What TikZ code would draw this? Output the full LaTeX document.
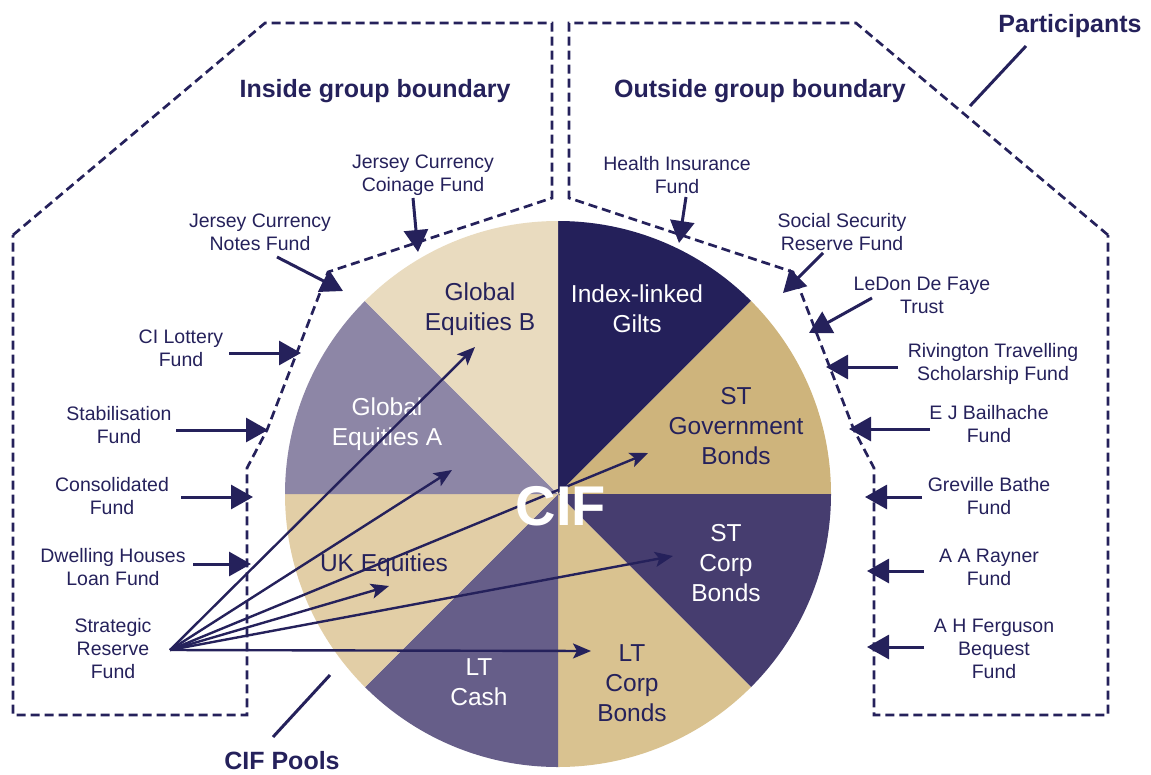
\documentclass[tikz,border=0pt]{standalone}
\usepackage{fontspec}
\setmainfont{Liberation Sans}
\usetikzlibrary{arrows.meta,calc}
\definecolor{navy}{RGB}{37,33,91}
\definecolor{cgilts}{RGB}{36,32,90}
\definecolor{cstgov}{RGB}{206,180,124}
\definecolor{cstcorp}{RGB}{70,61,111}
\definecolor{cltcorp}{RGB}{217,194,144}
\definecolor{cltcash}{RGB}{102,94,137}
\definecolor{cukeq}{RGB}{226,206,166}
\definecolor{cglobA}{RGB}{141,134,166}
\definecolor{cglobB}{RGB}{233,219,191}
\begin{document}
\begin{tikzpicture}[x=1pt,y=-1pt,
  lbl/.style={text=navy, align=center, font=\fontsize{19.5}{23}\selectfont, inner sep=0pt},
  pielbl/.style={align=center, font=\fontsize{24.5}{30}\selectfont, inner sep=0pt},
  ttl/.style={text=navy, font=\fontsize{25}{29}\selectfont\bfseries, inner sep=0pt},
  bnd/.style={draw=navy, line width=2.7pt, dash pattern=on 9pt off 5pt, line join=miter},
  bigarr/.style={draw=navy, line width=3pt, -{Triangle[length=22pt,width=24pt]}},
  poolarr/.style={draw=navy, line width=2.4pt, -{Stealth[length=18pt,width=15pt,inset=4pt]}},
  lead/.style={draw=navy, line width=3pt}]
\useasboundingbox (0,0) rectangle (1151,774);

% boundaries
\draw[bnd] (13,235) -- (265,23) -- (552,23) -- (552,198) -- (328,272) -- (267,430) -- (247,468) -- (247,715) -- (13,715) -- cycle;
\draw[bnd] (1108,235) -- (856,23) -- (569,23) -- (569,198) -- (793,272) -- (854,430) -- (874,468) -- (874,715) -- (1108,715) -- cycle;

% pie
\coordinate (c) at (558,494);
\begin{scope}
\clip (c) circle[radius=273pt];
\fill[cgilts]  (c) -- ($(c)+(-90:400)$) -- ($(c)+(-67.5:400)$) -- ($(c)+(-45:400)$) -- cycle;
\fill[cstgov]  (c) -- ($(c)+(-45:400)$) -- ($(c)+(-22.5:400)$) -- ($(c)+(0:400)$) -- cycle;
\fill[cstcorp] (c) -- ($(c)+(0:400)$) -- ($(c)+(22.5:400)$) -- ($(c)+(45:400)$) -- cycle;
\fill[cltcorp] (c) -- ($(c)+(45:400)$) -- ($(c)+(67.5:400)$) -- ($(c)+(90:400)$) -- cycle;
\fill[cltcash] (c) -- ($(c)+(90:400)$) -- ($(c)+(112.5:400)$) -- ($(c)+(135:400)$) -- cycle;
\fill[cukeq]   (c) -- ($(c)+(135:400)$) -- ($(c)+(157.5:400)$) -- ($(c)+(180:400)$) -- cycle;
\fill[cglobA]  (c) -- ($(c)+(180:400)$) -- ($(c)+(202.5:400)$) -- ($(c)+(225:400)$) -- cycle;
\fill[cglobB]  (c) -- ($(c)+(225:400)$) -- ($(c)+(247.5:400)$) -- ($(c)+(270:400)$) -- cycle;
\end{scope}

% pie labels
\node[pielbl,text=navy]  (gb)  at (480,309) {Global\\Equities B};
\node[pielbl,text=white] (ilg) at (637,309) {Index-linked\\Gilts};
\node[pielbl,text=navy]  (stg) at (736,426) {ST\\Government\\Bonds};
\node[pielbl,text=white] (stc) at (726,563) {ST\\Corp\\Bonds};
\node[pielbl,text=navy]  (ltc) at (632,683) {LT\\Corp\\Bonds};
\node[pielbl,text=white] (lca) at (479,682) {LT\\Cash};
\node[pielbl,text=navy]  (uke) at (384,565) {UK Equities};
\node[pielbl,text=white] (gea) at (387,424) {Global\\Equities A};

% titles
\node[ttl] (inside)  at (375,91) {Inside group boundary};
\node[ttl] (outside) at (760,91) {Outside group boundary};
\node[ttl] (part)    at (1070,26) {Participants};
\node[ttl] (pools)   at (282,761) {CIF Pools};

% participant labels, left
\node[lbl] (jcc)  at (423,175) {Jersey Currency\\Coinage Fund};
\node[lbl] (jcn)  at (260,232) {Jersey Currency\\Notes Fund};
\node[lbl] (cil)  at (181,348) {CI Lottery\\Fund};
\node[lbl] (stab) at (119,425) {Stabilisation\\Fund};
\node[lbl] (cons) at (112,496) {Consolidated\\Fund};
\node[lbl] (dhl)  at (113,567) {Dwelling Houses\\Loan Fund};
\node[lbl] (srf)  at (113,649) {Strategic\\Reserve\\Fund};
% right
\node[lbl] (hif)  at (677,175) {Health Insurance\\Fund};
\node[lbl] (ssr)  at (842,232) {Social Security\\Reserve Fund};
\node[lbl] (ldf)  at (922,295) {LeDon De Faye\\Trust};
\node[lbl] (rts)  at (993,364) {Rivington Travelling\\Scholarship Fund};
\node[lbl] (ejb)  at (989,424) {E J Bailhache\\Fund};
\node[lbl] (gbf)  at (989,496) {Greville Bathe\\Fund};
\node[lbl] (aar)  at (989,567) {A A Rayner\\Fund};
\node[lbl] (ahf)  at (994,649) {A H Ferguson\\Bequest\\Fund};

% arrow ends
\coordinate (jccS) at (413,198); \coordinate (jccE) at (418,252);
\coordinate (jcnS) at (277,257); \coordinate (jcnE) at (343,291);
\coordinate (cilS) at (229,353); \coordinate (cilE) at (301,353);
\coordinate (stabS) at (176,430); \coordinate (stabE) at (268,430);
\coordinate (consS) at (181,497); \coordinate (consE) at (253,497);
\coordinate (dhlS) at (193,564); \coordinate (dhlE) at (251,564);
\coordinate (hifS) at (686,197); \coordinate (hifE) at (679,243);
\coordinate (ssrS) at (823,253); \coordinate (ssrE) at (783,293);
\coordinate (ldfS) at (872,298); \coordinate (ldfE) at (809,333);
\coordinate (rtsS) at (898,367); \coordinate (rtsE) at (826,367);
\coordinate (ejbS) at (930,429); \coordinate (ejbE) at (849,429);
\coordinate (gbfS) at (922,497); \coordinate (gbfE) at (865,497);
\coordinate (aarS) at (924,571); \coordinate (aarE) at (867,571);
\coordinate (ahfS) at (924,647); \coordinate (ahfE) at (867,647);

\foreach \n in {jcc,jcn,cil,stab,cons,dhl,hif,ssr,ldf,rts,ejb,gbf,aar,ahf}
  \draw[bigarr] (\n S) -- (\n E);

% pool arrows
\coordinate (src) at (170,650);
\coordinate (tGB) at (475,347);
\coordinate (tGA) at (452,470);
\coordinate (tSG) at (648,453);
\coordinate (tUK) at (389,586);
\coordinate (tSC) at (673,556);
\coordinate (tLC) at (591,651);
\foreach \t in {tGB,tGA,tSG,tUK,tSC,tLC}
  \draw[poolarr] (src) -- (\t);

% leaders
\coordinate (partA) at (1026,46); \coordinate (partB) at (970,106);
\draw[lead] (partA) -- (partB);
\coordinate (poolA) at (273,737); \coordinate (poolB) at (330,675);
\draw[lead] (poolA) -- (poolB);

% centre label
\node[text=white, font=\fontsize{56}{56}\selectfont\bfseries, inner sep=0pt] (cif) at (561,506) {CIF};
\end{tikzpicture}
\end{document}
